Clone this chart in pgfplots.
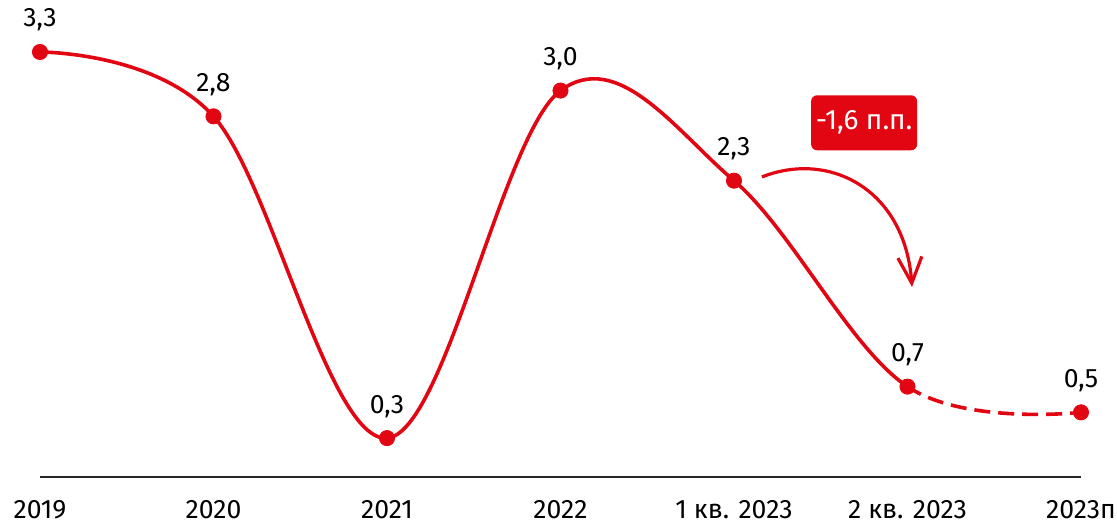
\documentclass[border=0pt]{standalone}
\usepackage{fontspec}
\setmainfont{Fira Sans}
\usepackage{pgfplots}
\usepackage{pgfplotstable}
\pgfplotsset{compat=1.18}
\usetikzlibrary{arrows.meta}
\definecolor{mred}{RGB}{226,6,19}

\pgfplotstableread{
x y lbl
0 3.3 3,3
1 2.8 2,8
2 0.3 0,3
3 3.0 3,0
4 2.3 2,3
5 0.7 0,7
6 0.5 0,5
}\ratedata

\begin{document}
\begin{tikzpicture}
\path[use as bounding box] (-20pt,-24.15pt) rectangle (538.5pt,238.35pt);
\begin{axis}[
    scale only axis,
    width=520.5pt, height=238.1pt,
    xmin=0, xmax=6, ymin=0, ymax=3.7,
    axis x line*=bottom, axis y line=none,
    x axis line style={-, line width=1pt, color=black!85},
    xtick={0,...,6},
    xticklabels={2019,2020,2021,2022,1 кв. 2023,2 кв. 2023,2023п},
    ytick=\empty,
    major tick length=0pt,
    xticklabel style={inner sep=0pt, anchor=north, yshift=-11.5pt,
        font=\fontsize{13.3}{15}\selectfont},
    clip=false,
]
% solid part up to 2 кв. 2023
\begin{scope}
\clip (axis cs:-0.5,-0.5) rectangle (axis cs:5,4.2);
\addplot[mred, line width=1.8pt, smooth, tension=0.6, no markers]
    table[x=x, y=y] {\ratedata};
\end{scope}
% forecast part, dashed
\begin{scope}
\clip (axis cs:5,-0.5) rectangle (axis cs:6.5,4.2);
\addplot[mred, line width=1.8pt, smooth, tension=0.6, no markers,
    dash pattern=on 8pt off 4pt]
    table[x=x, y=y] {\ratedata};
\end{scope}
\addplot[only marks, mark=*, mark size=3.8pt, mred,
    nodes near coords, point meta=explicit symbolic,
    every node near coord/.append style={anchor=base, inner sep=0pt,
        yshift=12.5pt, text=black, font=\fontsize{13.3}{15}\selectfont}]
    table[x=x, y=y, meta=lbl] {\ratedata};

\node[fill=mred, rounded corners=3pt, minimum width=53pt, minimum height=27.5pt,
    inner sep=0pt, text=white, font=\fontsize{14}{16}\selectfont]
    at (axis cs:4.75,2.75) {-1,6 п.п.};
\draw[mred, line width=1.6pt, -{Straight Barb[length=13pt, width=12pt]}]
    (axis cs:4.161,2.329) .. controls (axis cs:4.553,2.538)
    and (axis cs:4.986,2.228) .. (axis cs:5.026,1.474);
\end{axis}
\end{tikzpicture}
\end{document}
